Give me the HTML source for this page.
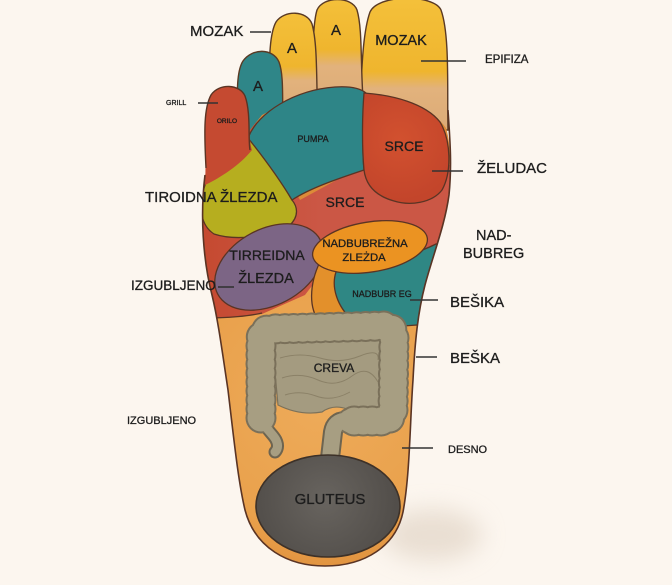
<!DOCTYPE html>
<html><head><meta charset="utf-8"><style>
html,body{margin:0;padding:0;background:#fcf6ef;}
svg{display:block;}
text{font-family:"Liberation Sans",Arial,sans-serif;fill:#1d1d1d;stroke:#1d1d1d;stroke-width:0.3;}
</style></head><body>
<svg width="672" height="585" viewBox="0 0 672 585" xmlns="http://www.w3.org/2000/svg">
<defs>
 <linearGradient id="gBig" x1="0" y1="0" x2="0" y2="130" gradientUnits="userSpaceOnUse">
  <stop offset="0" stop-color="#f4c03a"/><stop offset="0.55" stop-color="#efb52e"/><stop offset="0.68" stop-color="#e2b27c"/><stop offset="1" stop-color="#dcab78"/>
 </linearGradient>
 <linearGradient id="gT2" x1="0" y1="0" x2="0" y2="110" gradientUnits="userSpaceOnUse">
  <stop offset="0" stop-color="#f4c03a"/><stop offset="0.45" stop-color="#efb52e"/><stop offset="0.6" stop-color="#e2b27c"/><stop offset="1" stop-color="#dcab78"/>
 </linearGradient>
 <linearGradient id="gT3" x1="0" y1="14" x2="0" y2="115" gradientUnits="userSpaceOnUse">
  <stop offset="0" stop-color="#f4c03a"/><stop offset="0.52" stop-color="#efb52e"/><stop offset="0.66" stop-color="#e2b27c"/><stop offset="1" stop-color="#dcab78"/>
 </linearGradient>
 <linearGradient id="gCoral" x1="205" y1="0" x2="320" y2="0" gradientUnits="userSpaceOnUse">
  <stop offset="0" stop-color="#c54a31"/><stop offset="1" stop-color="#cb5745"/>
 </linearGradient>
 <radialGradient id="gSole" cx="320" cy="400" r="190" gradientUnits="userSpaceOnUse">
  <stop offset="0" stop-color="#eeab5a"/><stop offset="0.7" stop-color="#e9a14c"/><stop offset="1" stop-color="#dc8b38"/>
 </radialGradient>
 <radialGradient id="gGlu" cx="325" cy="500" r="75" gradientUnits="userSpaceOnUse">
  <stop offset="0" stop-color="#68645f"/><stop offset="1" stop-color="#514d49"/>
 </radialGradient>
 <radialGradient id="gSrce" cx="400" cy="140" r="60" gradientUnits="userSpaceOnUse">
  <stop offset="0" stop-color="#d2512f"/><stop offset="1" stop-color="#c3452b"/>
 </radialGradient>
 <clipPath id="cb"><path d="M 205 175 C 200 215, 203 260, 212 295 C 218 320, 222 350, 228 390 C 234 440, 238 480, 245 510 C 255 548, 288 566, 325 566 C 365 566, 396 546, 403 512 C 410 475, 410 420, 413 380 C 415 340, 418 312, 425 285 C 433 255, 445 225, 449 195 C 452 165, 450 140, 446 128 C 430 105, 395 95, 364 93 L 335 92 L 295 98 L 262 115 L 250 130 Z"/></clipPath>
 <filter id="blur" x="-50%" y="-50%" width="200%" height="200%"><feGaussianBlur stdDeviation="12"/></filter>
</defs>

<rect width="672" height="585" fill="#fcf6ef"/>
<ellipse cx="432" cy="535" rx="50" ry="26" fill="#ddcfbf" opacity="0.6" filter="url(#blur)"/>

<!-- toes -->
<g stroke="#5a3a24" stroke-width="1.4">
 <path d="M 358 130 C 362 100, 360 40, 370 12 C 378 -6, 434 -6, 441 10 C 450 35, 447 90, 448 130 Z" fill="url(#gBig)"/>
 <path d="M 310 112 C 314 80, 311 30, 317 10 C 323 -4, 352 -4, 357 10 C 363 30, 360 70, 364 112 Z" fill="url(#gT2)"/>
 <path d="M 268 118 C 271 90, 266 40, 276 22 C 284 10, 307 10, 312 24 C 318 45, 316 85, 318 118 Z" fill="url(#gT3)"/>
 <path d="M 236 140 C 239 110, 234 75, 243 61 C 252 48, 273 48, 279 62 C 285 78, 281 110, 284 132 Z" fill="#2f8688"/>
</g>

<!-- body -->
<path d="M 205 175 C 200 215, 203 260, 212 295 C 218 320, 222 350, 228 390 C 234 440, 238 480, 245 510 C 255 548, 288 566, 325 566 C 365 566, 396 546, 403 512 C 410 475, 410 420, 413 380 C 415 340, 418 312, 425 285 C 433 255, 445 225, 449 195 C 452 165, 450 140, 446 128 C 430 105, 395 95, 364 93 L 335 92 L 295 98 L 262 115 L 250 130 Z" fill="url(#gSole)"/>

<g clip-path="url(#cb)" stroke="#5a3424" stroke-width="1.3">
 <path d="M 190 120 L 255 120 L 300 200 L 364 165 L 460 165 L 460 248 L 330 262 L 305 295 L 262 314 L 222 318 L 190 320 Z" fill="url(#gCoral)" stroke="none"/>
 <path d="M 205 318 C 228 318, 250 316, 262 313" fill="none"/>
 <path d="M 255 133 C 238 150, 214 164, 205 185 C 198 205, 200 225, 214 234 C 235 241, 270 237, 289 226 C 300 216, 297 206, 292 200 C 280 180, 268 156, 255 133 Z" fill="#b6ae1f"/>
 <ellipse cx="269" cy="267" rx="58" ry="38" transform="rotate(-28 269 267)" fill="#7c6585"/>
 <path d="M 322 258 C 310 280, 308 305, 318 320 C 332 324, 345 322, 355 320 C 340 305, 334 285, 340 268 Z" fill="#e3902b"/>
 <path d="M 336 272 C 355 266, 400 262, 436 244 L 470 240 L 470 330 L 417 325 C 395 327, 368 326, 352 320 C 337 306, 331 287, 336 272 Z" fill="#2f8784"/>
 <ellipse cx="370" cy="247" rx="58" ry="25" transform="rotate(-9 370 247)" fill="#eb9322"/>
</g>

<!-- pumpa + big srce (unclipped, own outlines) -->
<g stroke="#5a3424" stroke-width="1.3">
 <path d="M 248 138 C 258 112, 295 90, 335 87 C 350 86, 360 88, 366 93 C 363 120, 362 150, 364 170 C 340 178, 310 188, 292 200 C 280 180, 264 158, 248 138 Z" fill="#2e8587"/>
 <path d="M 364 93 C 392 95, 425 103, 440 122 C 451 140, 452 172, 442 190 C 432 203, 410 206, 394 201 C 376 196, 366 186, 364 170 C 362 148, 362 118, 364 93 Z" fill="url(#gSrce)"/>
</g>

<!-- pinky -->
<path d="M 205 185 C 207 145, 202 108, 211 95 C 219 83, 240 84, 245 96 C 251 112, 248 140, 252 150 C 240 165, 220 178, 205 185 Z" fill="#c54a31"/>
<path d="M 206 168 C 204 130, 204 108, 211 95 C 219 83, 240 84, 245 96 C 251 112, 248 140, 250 150" fill="none" stroke="#5a3424" stroke-width="1.4"/>

<!-- body outline -->
<path d="M 205 175 C 200 215, 203 260, 212 295 C 218 320, 222 350, 228 390 C 234 440, 238 480, 245 510 C 255 548, 288 566, 325 566 C 365 566, 396 546, 403 512 C 410 475, 410 420, 413 380 C 415 340, 418 312, 425 285 C 433 255, 445 225, 449 195 C 452 165, 450 140, 448 110" fill="none" stroke="#5a3424" stroke-width="1.6"/>

<!-- intestines -->
<path d="M 272 340 L 382 336 L 383 404 Q 366 416, 347 409 Q 333 404, 322 412 Q 300 416, 278 405 Z" fill="#a49b80" stroke="#7b715a" stroke-width="1.2"/>
<g fill="none" stroke="#857b62" stroke-width="1" opacity="0.8">
 <path d="M 280 358 Q 300 352, 320 358 T 360 356 T 378 360"/>
 <path d="M 282 378 Q 300 372, 318 380 T 352 376 T 378 382"/>
 <path d="M 285 395 Q 300 390, 316 396 T 350 392"/>
</g>
<g fill="none" stroke-linecap="round" stroke-linejoin="round">
 <path d="M 262 412 C 262 428, 272 432, 276 440 C 279 446, 277 450, 275 452" stroke="#6d6450" stroke-width="13"/>
 <path d="M 345 421 Q 335 421, 333 432 L 330 458" stroke="#6d6450" stroke-width="20"/>
 <path d="M 261 418 L 261 340 Q 261 329, 273 329 L 383 326 Q 394 326, 394 337 L 393 410 Q 392 421, 381 421 L 350 421" stroke="#7a705a" stroke-width="31" stroke-dasharray="0.01 9"/>
 <path d="M 261 418 L 261 340 Q 261 329, 273 329 L 383 326 Q 394 326, 394 337 L 393 410 Q 392 421, 381 421 L 350 421" stroke="#7a705a" stroke-width="27"/>
 <path d="M 261 418 L 261 340 Q 261 329, 273 329 L 383 326 Q 394 326, 394 337 L 393 410 Q 392 421, 381 421 L 350 421" stroke="#a79e82" stroke-width="27" stroke-dasharray="0.01 9"/>
 <path d="M 261 418 L 261 340 Q 261 329, 273 329 L 383 326 Q 394 326, 394 337 L 393 410 Q 392 421, 381 421 L 350 421" stroke="#a79e82" stroke-width="23"/>
 <path d="M 262 412 C 262 428, 272 432, 276 440 C 279 446, 277 450, 275 452" stroke="#a79e82" stroke-width="9"/>
 <path d="M 345 421 Q 335 421, 333 432 L 330 458" stroke="#a79e82" stroke-width="16"/>
</g>

<!-- gluteus -->
<ellipse cx="328" cy="506" rx="72" ry="51" fill="url(#gGlu)" stroke="#3d3128" stroke-width="1.6"/>

<!-- leader lines -->
<g stroke="#333" stroke-width="1.6">
 <line x1="250" y1="32" x2="271" y2="32"/>
 <line x1="421" y1="61" x2="466" y2="61"/>
 <line x1="198" y1="103" x2="218" y2="103"/>
 <line x1="432" y1="171" x2="463" y2="171"/>
 <line x1="218" y1="287" x2="234" y2="287"/>
 <line x1="410" y1="300" x2="438" y2="300"/>
 <line x1="416" y1="357" x2="437" y2="357"/>
 <line x1="402" y1="448" x2="433" y2="448"/>
</g>

<!-- labels -->
<text x="190" y="36" font-size="15">MOZAK</text>
<text x="292" y="53" font-size="15" text-anchor="middle">A</text>
<text x="336" y="35" font-size="15" text-anchor="middle">A</text>
<text x="401" y="45" font-size="14.5" text-anchor="middle">MOZAK</text>
<text x="258" y="91" font-size="15" text-anchor="middle">A</text>
<text x="485" y="63" font-size="11.5">EPIFIZA</text>
<text x="166" y="105" font-size="7">GRILL</text>
<text x="227" y="123" font-size="6.5" text-anchor="middle">ORILO</text>
<text x="313" y="142" font-size="9" text-anchor="middle">PUMPA</text>
<text x="404" y="151" font-size="14" text-anchor="middle">SRCE</text>
<text x="477" y="173" font-size="15">ŽELUDAC</text>
<text x="145" y="202" font-size="15">TIROIDNA ŽLEZDA</text>
<text x="345" y="207" font-size="14" text-anchor="middle">SRCE</text>
<text x="476" y="240" font-size="14.5">NAD-</text>
<text x="463" y="258" font-size="14.5">BUBREG</text>
<text x="365" y="247" font-size="11.3" text-anchor="middle">NADBUBREŽNA</text>
<text x="364" y="261" font-size="11.3" text-anchor="middle">ZLEŻDA</text>
<text x="267" y="260" font-size="14" text-anchor="middle">TIRREIDNA</text>
<text x="266" y="283" font-size="14.5" text-anchor="middle">ŽLEZDA</text>
<text x="131" y="290" font-size="13.5">IZGUBLJENO</text>
<text x="382" y="297" font-size="9" text-anchor="middle">NADBUBR EG</text>
<text x="450" y="307" font-size="15">BEŠIKA</text>
<text x="334" y="372" font-size="12" text-anchor="middle">CREVA</text>
<text x="450" y="363" font-size="15">BEŠKA</text>
<text x="127" y="424" font-size="11">IZGUBLJENO</text>
<text x="448" y="453" font-size="11">DESNO</text>
<text x="330" y="504" font-size="15" text-anchor="middle">GLUTEUS</text>
</svg>
</body></html>
